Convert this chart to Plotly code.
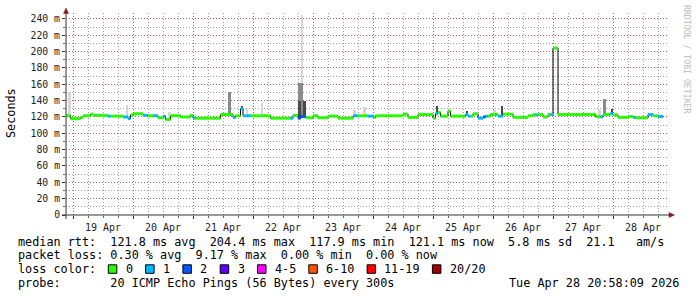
import numpy as np
import pandas as pd
import plotly.graph_objects as go

# ---------------- data ----------------
START = pd.Timestamp("2026-04-18 21:00")          # first hourly sample
X_RANGE = ["2026-04-18 21:12", "2026-04-28 22:00"]

# median RTT, run-length encoded per hour: (hours, median ms, lost pings of 20)
run_hours = [2, 4, 1, 3, 1, 6, 1, 5, 2, 1, 1, 4, 2, 2, 2, 2, 1, 2, 4, 4,
             1, 1, 10, 5, 1, 2, 1, 3, 8, 8, 1, 2, 1, 2, 1, 2, 2, 4, 4, 6,
             2, 4, 2, 1, 11, 2, 4, 6, 1, 1, 1, 3, 1, 6, 1, 1, 1, 2, 2, 1,
             1, 1, 3, 2, 4, 6, 2, 1, 1, 2, 2, 1, 1, 2, 15, 2, 1, 3, 1, 2,
             4, 2, 1, 5, 2, 2, 2]
run_median_ms = [121.5, 118, 119.5, 121.5, 123.5, 122, 121, 121, 120, 118,
                 122.5, 124, 122, 121.5, 121.5, 119, 121, 117, 121.5, 120,
                 122, 118.5, 118.5, 123, 119.5, 121.5, 130, 121.5, 121.5, 118.5,
                 118.5, 122, 118.5, 120.5, 119.5, 119, 121.5, 119, 121, 118.5,
                 121.5, 121.5, 121, 119.5, 121.5, 123.5, 119.5, 123, 118.5, 124,
                 125.5, 121, 127, 121, 123, 121, 121, 124, 118.5, 120,
                 121, 121, 123, 121, 123.5, 119.5, 121.5, 123, 122.5, 123,
                 120, 123, 123, 204.4, 123, 120.5, 120, 123, 124, 122.5,
                 119.5, 120.5, 119.5, 119, 123, 121.5, 120.5]
run_loss = [0, 0, 0, 0, 0, 0, 1, 0, 1, 1, 0, 0, 1, 0, 1, 0, 1, 0, 0, 0,
            0, 1, 0, 0, 1, 0, 1, 1, 0, 0, 1, 0, 2, 2, 0, 0, 0, 0, 0, 0,
            1, 0, 1, 0, 0, 0, 0, 0, 0, 1, 0, 0, 0, 0, 1, 1, 0, 0, 1, 2,
            1, 0, 0, 1, 0, 0, 0, 0, 1, 0, 0, 0, 1, 0, 0, 0, 1, 0, 1, 0,
            0, 0, 1, 0, 1, 0, 1]

# smoke (spread of the 20 pings) where it shows above the median line
smoke_hour = [1, 24, 41, 65, 70, 72, 78, 93, 94, 93, 94, 95, 115, 119, 148,
              160, 171, 174, 213, 215, 218]
smoke_top_ms = [150.5, 135, 126, 151, 134, 130, 137, 161, 245, 140, 161, 140,
                128.5, 132.5, 133.5, 127, 128, 133.5, 128, 142, 129.5]
smoke_shade = ["light", "light", "light", "mid", "dark", "light", "light", "mid",
               "light", "dark", "mid", "dark", "light", "light", "dark", "dark",
               "light", "dark", "light", "mid", "dark"]

y_tick_vals = list(range(0, 241, 20))
y_tick_text = ["0"] + [f"{v} m" for v in y_tick_vals[1:]]

loss_labels = ["0", "1", "2", "3", "4-5", "6-10", "11-19", "20/20"]
loss_colors = ["#26ff00", "#00b8ff", "#0059ff", "#5e00ff", "#ff00ff",
               "#ff5500", "#ff0000", "#a10000"]

legend_line1 = "median rtt:  121.8 ms avg  204.4 ms max  117.9 ms min  121.1 ms now  5.8 ms sd  21.1   am/s"
legend_line2 = "packet loss: 0.30 % avg  9.17 % max  0.00 % min  0.00 % now"
legend_line3 = "loss color:"
legend_line4 = "probe:       20 ICMP Echo Pings (56 Bytes) every 300s"
legend_date = "Tue Apr 28 20:58:09 2026"
watermark = "RRDTOOL / TOBI OETIKER"

# ---------------- derived ----------------
median = np.repeat(run_median_ms, run_hours)
loss = np.repeat(run_loss, run_hours)
n = len(median)
t = [START + pd.Timedelta(hours=i) for i in range(n + 1)]
HOUR = pd.Timedelta(hours=1)

W, H = 697, 297
ML, MR, MT, MB = 66, 29, 13, 82
PW, PH = W - ML - MR, H - MT - MB


def px(x):
    return (x - ML) / PW


def py(y):
    return (H - MB - y) / PH


MONO = "DejaVu Sans Mono"
fig = go.Figure()

shade_col = {"light": "#d6d6d6", "mid": "#8a8a8a", "dark": "#4a4a4a"}
for shade in ["light", "mid", "dark"]:
    idx = [i for i, s in enumerate(smoke_shade) if s == shade]
    xs = [t[smoke_hour[i]] + HOUR / 2 for i in idx]
    base = [median[smoke_hour[i]] - 1.5 for i in idx]
    hgt = [smoke_top_ms[i] - median[smoke_hour[i]] + 1.5 for i in idx]
    fig.add_trace(go.Bar(x=xs, y=hgt, base=base, width=3600000,
                         marker=dict(color=shade_col[shade], line=dict(width=0)),
                         hoverinfo="skip", showlegend=False))

# thin dark median line (shows at steps)
fig.add_trace(go.Scatter(x=t, y=list(median) + [median[-1]], mode="lines",
                         line=dict(color="#000000", width=1, shape="hv"),
                         hoverinfo="skip", showlegend=False))

# coloured median segments by loss
for c in sorted(set(loss.tolist())):
    xs, ys = [], []
    for i in range(n):
        if loss[i] == c:
            xs += [t[i], t[i + 1], None]
            ys += [median[i], median[i], None]
    fig.add_trace(go.Scatter(x=xs, y=ys, mode="lines",
                             line=dict(color=loss_colors[c], width=3),
                             hoverinfo="skip", showlegend=False))

MAJ = "#c05a5a"
MIN = "#9c9c9c"
DASH = "1px,2px"
fig.update_layout(
    width=W, height=H, margin=dict(l=ML, r=MR, t=MT, b=MB, pad=0),
    paper_bgcolor="#ffffff", plot_bgcolor="#ffffff",
    barmode="overlay", bargap=0, showlegend=False,
    font=dict(family=MONO, color="#000000"),
    xaxis=dict(type="date", range=X_RANGE, tickformat="%d %b",
               ticklabelmode="period", dtick=86400000, tick0="2026-04-19",
               showgrid=True, gridcolor=MAJ, gridwidth=1, griddash=DASH,
               ticks="outside", ticklen=3, tickcolor="#333333",
               tickfont=dict(family=MONO, size=10, color="#222222"),
               minor=dict(dtick=21600000, tick0="2026-04-19", showgrid=True,
                          gridcolor=MIN, griddash=DASH, ticks="outside",
                          ticklen=2, tickcolor="#666666"),
               showline=False, zeroline=False, fixedrange=True),
    yaxis=dict(range=[0, 247.3], tickvals=y_tick_vals, ticktext=y_tick_text,
               showgrid=True, gridcolor=MAJ, gridwidth=1, griddash=DASH,
               ticks="outside", ticklen=3, tickcolor="#333333",
               tickfont=dict(family=MONO, size=9.8, color="#222222"),
               minor=dict(dtick=10, showgrid=True, gridcolor=MIN,
                          griddash=DASH, ticks="outside", ticklen=2,
                          tickcolor="#666666"),
               showline=False, zeroline=False, fixedrange=True),
)

shapes = []
# axis lines
shapes.append(dict(type="line", xref="paper", yref="paper", x0=px(62), x1=px(669),
                   y0=0, y1=0, line=dict(color="#333333", width=1)))
shapes.append(dict(type="line", xref="paper", yref="paper", x0=0, x1=0,
                   y0=py(219), y1=py(13), line=dict(color="#333333", width=1)))
# arrows
shapes.append(dict(type="path", xref="paper", yref="paper",
                   path=f"M {px(63.5)} {py(13.5)} L {px(66)} {py(8)} L {px(68.5)} {py(13.5)} Z",
                   fillcolor="#8b1a1a", line=dict(color="#8b1a1a", width=0.5)))
shapes.append(dict(type="path", xref="paper", yref="paper",
                   path=f"M {px(669)} {py(212.5)} L {px(674.5)} {py(215)} L {px(669)} {py(217.5)} Z",
                   fillcolor="#8b1a1a", line=dict(color="#8b1a1a", width=0.5)))

ann = []
LF = dict(family=MONO, size=11.8, color="#000000")


def txt(s):
    return s.replace(" ", "\u00a0")


for yy, s in [(241.7, legend_line1), (255.3, legend_line2), (269, legend_line3),
              (282.7, legend_line4)]:
    ann.append(dict(text=txt(s), x=px(16), y=py(yy), xref="paper", yref="paper",
                    xanchor="left", yanchor="middle", showarrow=False, font=LF))
ann.append(dict(text=txt(legend_date), x=px(681), y=py(282.7), xref="paper",
                yref="paper", xanchor="right", yanchor="middle", showarrow=False,
                font=LF))

bx = 108.3
for lab, col in zip(loss_labels, loss_colors):
    shapes.append(dict(type="rect", xref="paper", yref="paper",
                       x0=px(bx), x1=px(bx + 8.5), y0=py(273.3), y1=py(264.8),
                       fillcolor=col, line=dict(color="#000000", width=1)))
    lx = bx + 15.3
    ann.append(dict(text=txt(lab), x=px(lx), y=py(269), xref="paper", yref="paper",
                    xanchor="left", yanchor="middle", showarrow=False, font=LF))
    bx = lx + 7.0 * len(lab) + 15

ann.append(dict(text="Seconds", x=px(11), y=py(113), xref="paper", yref="paper",
                xanchor="center", yanchor="middle", textangle=-90, showarrow=False,
                font=dict(family=MONO, size=11.8, color="#000000")))
ann.append(dict(text=txt(watermark), x=px(687), y=py(59), xref="paper", yref="paper",
                xanchor="center", yanchor="middle", textangle=90, showarrow=False,
                font=dict(family=MONO, size=8.2, color="#bdbdbd")))

fig.update_layout(shapes=shapes, annotations=ann)
fig.write_html("out.html")
